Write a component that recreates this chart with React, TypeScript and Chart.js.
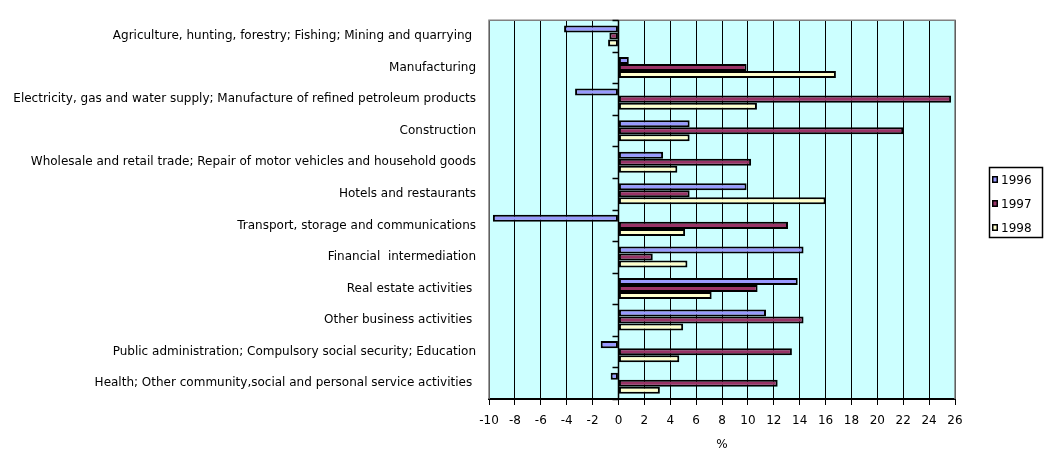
import React, { useEffect, useRef } from "react";
import { Chart, registerables } from "chart.js";

Chart.register(...registerables);

const categories = [
  "Agriculture, hunting, forestry; Fishing; Mining and quarrying ",
  "Manufacturing",
  "Electricity, gas and water supply; Manufacture of refined petroleum products",
  "Construction",
  "Wholesale and retail trade; Repair of motor vehicles and household goods",
  "Hotels and restaurants",
  "Transport, storage and communications",
  "Financial  intermediation",
  "Real estate activities ",
  "Other business activities ",
  "Public administration; Compulsory social security; Education",
  "Health; Other community,social and personal service activities ",
];

const seriesNames = ["1996", "1997", "1998"];

const values1996 = [-4.2, 0.8, -3.35, 5.5, 3.45, 9.9, -9.7, 14.3, 13.85, 11.4, -1.37, -0.6];
const values1997 = [-0.7, 9.9, 25.7, 22.0, 10.25, 5.5, 13.1, 2.65, 10.75, 14.3, 13.4, 12.3];
const values1998 = [-0.8, 16.8, 10.7, 5.5, 4.55, 16.0, 5.15, 5.33, 7.2, 5.0, 4.7, 3.2];

const xMin = -10;
const xMax = 26;
const xStep = 2;
const axisTitle = "%";

const FONT = "'DejaVu Sans', Verdana, sans-serif";

const decorPlugin = {
  id: "decor",
  beforeDraw(chart: any) {
    const { ctx, chartArea } = chart;
    ctx.save();
    ctx.fillStyle = "#CCFFFF";
    ctx.fillRect(chartArea.left, chartArea.top, chartArea.right - chartArea.left, chartArea.bottom - chartArea.top);
    ctx.restore();
  },
  afterDraw(chart: any) {
    const { ctx, chartArea, scales } = chart;
    ctx.save();
    ctx.strokeStyle = "#808080";
    ctx.lineWidth = 1.5;
    ctx.beginPath();
    ctx.moveTo(chartArea.left, chartArea.bottom);
    ctx.lineTo(chartArea.left, chartArea.top);
    ctx.lineTo(chartArea.right, chartArea.top);
    ctx.lineTo(chartArea.right, chartArea.bottom);
    ctx.stroke();
    const x0 = Math.round(scales.x.getPixelForValue(0)) + 0.5;
    const n = chart.data.labels.length;
    const h = (chartArea.bottom - chartArea.top) / n;
    ctx.strokeStyle = "#000";
    ctx.lineWidth = 1.5;
    ctx.beginPath();
    ctx.moveTo(x0, chartArea.top);
    ctx.lineTo(x0, chartArea.bottom);
    for (let i = 0; i <= n; i++) {
      const y = Math.round(chartArea.top + i * h) + 0.5;
      ctx.moveTo(x0 - 6, y);
      ctx.lineTo(x0, y);
    }
    ctx.stroke();
    const lx = 989, ly = 167, lw = 53, lh = 70;
    ctx.lineWidth = 1.5;
    ctx.strokeStyle = "#000";
    ctx.strokeRect(lx + 0.5, ly + 0.5, lw, lh);
    ctx.font = "12px " + FONT;
    ctx.textBaseline = "middle";
    ctx.textAlign = "left";
    chart.data.datasets.forEach((ds: any, i: number) => {
      const cy = ly + 13 + i * 24;
      ctx.fillStyle = "#000";
      ctx.fillRect(lx + 3, cy - 4, 6, 7);
      ctx.fillStyle = ds.backgroundColor;
      ctx.fillRect(lx + 4.5, cy - 2.5, 3, 4);
      ctx.fillStyle = "#000";
      ctx.fillText(ds.label, lx + 12, cy + 1);
    });
    ctx.restore();
  },
};

export default function App() {
  const canvasRef = useRef<HTMLCanvasElement | null>(null);

  useEffect(() => {
    if (!canvasRef.current) return;
    const mk = (label: string, data: number[], color: string) => ({
      label,
      data,
      backgroundColor: color,
      borderColor: "#000",
      borderWidth: 2,
      borderSkipped: false,
      categoryPercentage: 0.667,
      barPercentage: 1.0,
    });
    const chart = new Chart(canvasRef.current, {
      type: "bar",
      data: {
        labels: categories,
        datasets: [
          mk(seriesNames[0], values1996, "#9999FF"),
          mk(seriesNames[1], values1997, "#993366"),
          mk(seriesNames[2], values1998, "#FFFFCC"),
        ],
      },
      options: {
        indexAxis: "y",
        animation: false,
        responsive: true,
        maintainAspectRatio: false,
        layout: { padding: { top: 9, right: 94, left: 0, bottom: 0 } },
        plugins: {
          legend: { display: false },
          tooltip: { enabled: false },
        },
        scales: {
          x: {
            type: "linear",
            min: xMin,
            max: xMax,
            ticks: { stepSize: xStep, color: "#000", padding: 9, font: { family: FONT, size: 12 } },
            grid: { color: "#000", lineWidth: 1, tickLength: 6, tickColor: "#000" },
            border: { display: true, color: "#000", width: 2 },
            title: { display: true, text: axisTitle, color: "#000", font: { family: FONT, size: 12 }, padding: { top: 0, bottom: 1 } },
            afterFit(scale: any) {
              scale.height = 54;
            },
          },
          y: {
            type: "category",
            position: "left",
            grid: { display: false, drawTicks: false },
            border: { display: false },
            ticks: { color: "#000", padding: 13, autoSkip: false, font: { family: FONT, size: 12 } },
            afterFit(scale: any) {
              scale.width = 489;
            },
          },
        },
      },
      plugins: [decorPlugin],
    } as any);
    return () => chart.destroy();
  }, []);

  return (
    <div style={{ position: "absolute", left: 0, top: 0, width: 1049, height: 453, background: "#fff" }}>
      <canvas ref={canvasRef} />
    </div>
  );
}
